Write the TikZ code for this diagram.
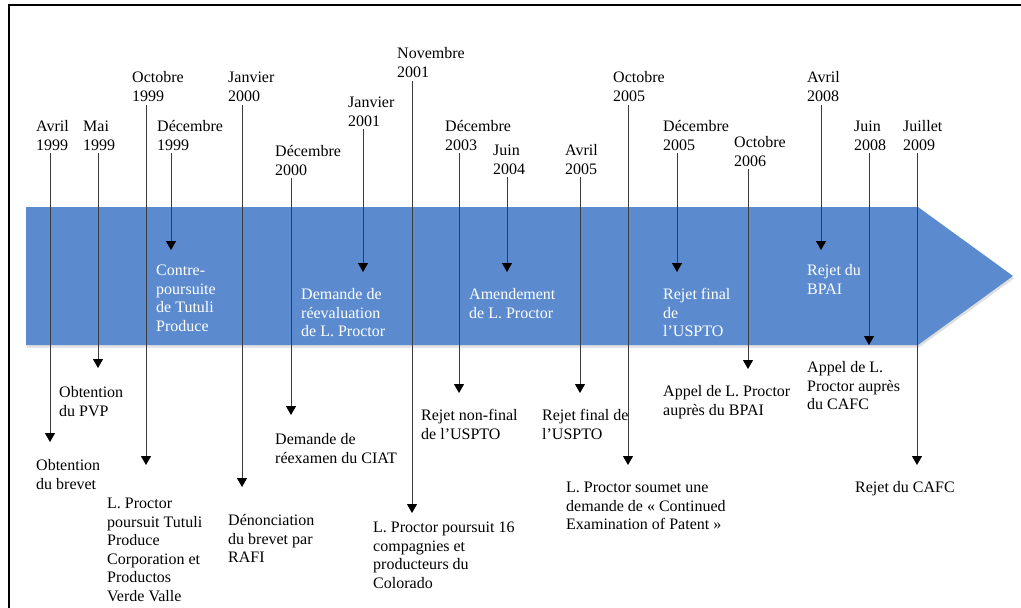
\documentclass[tikz,border=0pt]{standalone}
\usepackage{fontspec}
\setmainfont{Liberation Serif}
\usetikzlibrary{arrows.meta,shadows}
\definecolor{arrowblue}{RGB}{91,139,206}
\definecolor{linegray}{RGB}{60,60,60}
\begin{document}
\begin{tikzpicture}[x=1pt,y=-1pt,
  txt/.style={font=\fontsize{16}{18.6}\selectfont, align=left, anchor=north west, inner sep=0pt, yshift=7.7pt},
  datelbl/.style={txt, text=black},
  evlbl/.style={txt, text=black},
  evlblw/.style={txt, text=white},
  evline/.style={draw=linegray, line width=0.8pt, -{Triangle[width=10pt,length=9pt,color=black]}}
]
\useasboundingbox (0,0) rectangle (1021,608);
\draw[line width=2.5pt] (9,608) -- (9,5) -- (1021,5);
\fill[arrowblue, drop shadow={shadow xshift=1pt, shadow yshift=-2.5pt, opacity=0.25}]
  (26,207) -- (918,207) -- (1013,276) -- (918,345) -- (26,345) -- cycle;

% 1 Avril 1999
\node[datelbl] (d1) at (36,126) {\strut Avril\\1999};
\coordinate (s1) at (50,153); \coordinate (t1) at (50,442);
\node[evlbl] (l1) at (36,465) {\strut Obtention\\du brevet};
% 2 Mai 1999
\node[datelbl] (d2) at (83,126) {\strut Mai\\1999};
\coordinate (s2) at (98,153); \coordinate (t2) at (98,368);
\node[evlbl] (l2) at (59,392) {\strut Obtention\\du PVP};
% 3 Octobre 1999
\node[datelbl] (d3) at (132,77) {\strut Octobre\\1999};
\coordinate (s3) at (146,105); \coordinate (t3) at (146,465);
\node[evlbl] (l3) at (107,503) {\strut L. Proctor\\poursuit Tutuli\\Produce\\Corporation et\\Productos\\Verde Valle};
% 4 Decembre 1999
\node[datelbl] (d4) at (157,126) {\strut Décembre\\1999};
\coordinate (s4) at (171,153); \coordinate (t4) at (171,250);
\node[evlblw] (l4) at (156,270) {\strut Contre-\\poursuite\\de Tutuli\\Produce};
% 5 Janvier 2000
\node[datelbl] (d5) at (228,77) {\strut Janvier\\2000};
\coordinate (s5) at (242,105); \coordinate (t5) at (242,487);
\node[evlbl] (l5) at (228,520) {\strut Dénonciation\\du brevet par\\RAFI};
% 6 Decembre 2000
\node[datelbl] (d6) at (275,151) {\strut Décembre\\2000};
\coordinate (s6) at (291,178); \coordinate (t6) at (291,415);
\node[evlbl] (l6) at (275,439) {\strut Demande de\\réexamen du CIAT};
% 7 Janvier 2001
\node[datelbl] (d7) at (348,102) {\strut Janvier\\2001};
\coordinate (s7) at (363,129); \coordinate (t7) at (363,272);
\node[evlblw] (l7) at (301,294) {\strut Demande de\\réevaluation\\de L. Proctor};
% 8 Novembre 2001
\node[datelbl] (d8) at (397,53) {\strut Novembre\\2001};
\coordinate (s8) at (412,81); \coordinate (t8) at (412,513);
\node[evlbl] (l8) at (373,527) {\strut L. Proctor poursuit 16\\compagnies et\\producteurs du\\Colorado};
% 9 Decembre 2003
\node[datelbl] (d9) at (445,126) {\strut Décembre\\2003};
\coordinate (s9) at (459,153); \coordinate (t9) at (459,393);
\node[evlbl] (l9) at (421,415) {\strut Rejet non-final\\de l’USPTO};
% 10 Juin 2004
\node[datelbl] (d10) at (493,150) {\strut Juin\\2004};
\coordinate (s10) at (507,177); \coordinate (t10) at (507,272);
\node[evlblw] (l10) at (469,294) {\strut Amendement\\de L. Proctor};
% 11 Avril 2005
\node[datelbl] (d11) at (565,150) {\strut Avril\\2005};
\coordinate (s11) at (580,177); \coordinate (t11) at (580,393);
\node[evlbl] (l11) at (542,415) {\strut Rejet final de\\l’USPTO};
% 12 Octobre 2005
\node[datelbl] (d12) at (613,77) {\strut Octobre\\2005};
\coordinate (s12) at (628,105); \coordinate (t12) at (628,465);
\node[evlbl] (l12) at (566,487) {\strut L. Proctor soumet une\\demande de « Continued\\Examination of Patent »};
% 13 Decembre 2005
\node[datelbl] (d13) at (663,126) {\strut Décembre\\2005};
\coordinate (s13) at (677,153); \coordinate (t13) at (677,272);
\node[evlblw] (l13) at (663,294) {\strut Rejet final\\de\\l’USPTO};
% 14 Octobre 2006
\node[datelbl] (d14) at (734,142) {\strut Octobre\\2006};
\coordinate (s14) at (748,169); \coordinate (t14) at (748,369);
\node[evlbl] (l14) at (663,391) {\strut Appel de L. Proctor\\auprès du BPAI};
% 15 Avril 2008
\node[datelbl] (d15) at (807,77) {\strut Avril\\2008};
\coordinate (s15) at (821,105); \coordinate (t15) at (821,250);
\node[evlblw] (l15) at (807,270) {\strut Rejet du\\BPAI};
% 16 Juin 2008
\node[datelbl] (d16) at (854,126) {\strut Juin\\2008};
\coordinate (s16) at (869,153); \coordinate (t16) at (869,345);
\node[evlbl] (l16) at (807,367) {\strut Appel de L.\\Proctor auprès\\du CAFC};
% 17 Juillet 2009
\node[datelbl] (d17) at (903,126) {\strut Juillet\\2009};
\coordinate (s17) at (917,153); \coordinate (t17) at (917,465);
\node[evlbl] (l17) at (855,487) {\strut Rejet du CAFC};

\foreach \i in {1,...,17} { \draw[evline] (s\i) -- (t\i); }
\end{tikzpicture}
\end{document}
